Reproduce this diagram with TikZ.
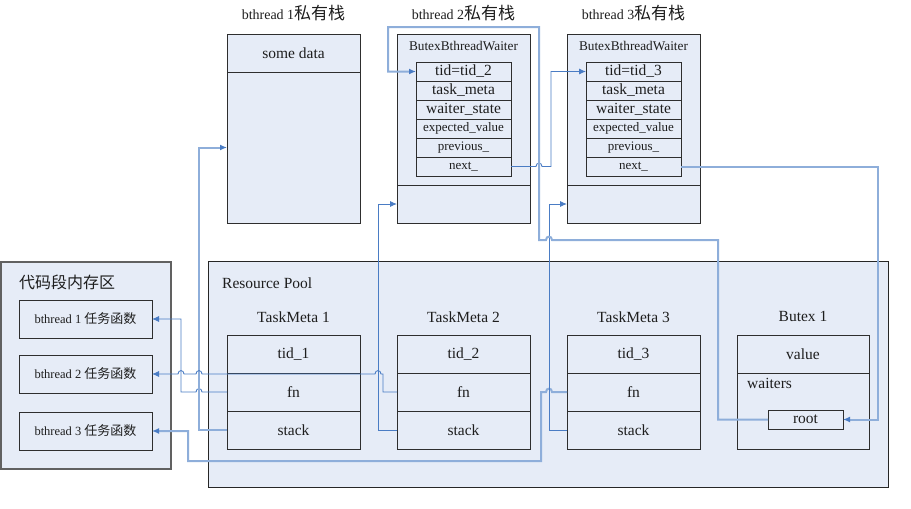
\documentclass[tikz,border=0pt]{standalone}
\usepackage{fontspec}
\setmainfont{Liberation Serif}
\newfontfamily\cjk{Noto Sans CJK SC}
\usetikzlibrary{arrows.meta}
\definecolor{bg}{HTML}{E6ECF7}
\definecolor{dk}{HTML}{4A7CC4}
\definecolor{lt}{HTML}{8EAEDA}
\definecolor{edge}{HTML}{2E2E2E}
\definecolor{txt}{HTML}{1E1E1E}
\tikzset{
  box/.style={draw=edge, fill=bg, line width=0.8pt, inner sep=0pt, outer sep=0pt, text=txt},
  big/.style={font=\fontsize{15.5}{17}\selectfont},
  small/.style={font=\fontsize{13}{15}\selectfont},
  cell/.style={box, big, minimum width=133pt, minimum height=38pt},
  wrow/.style={box, minimum width=95pt, minimum height=19pt},
  lbl/.style={inner sep=0pt, text=txt},
  dkline/.style={draw=dk, line width=0.9pt},
  ltline/.style={draw=lt, line width=2pt},
  tip/.style={-{Latex[length=7pt,width=6pt,color=dk]}},
}
\newcommand{\ttl}[1]{{\fontsize{14}{15}\selectfont bthread #1\cjk\fontsize{17}{18}\selectfont 私有栈}}
\newcommand{\fnl}[1]{{\fontsize{12.5}{14}\selectfont bthread #1 \cjk\fontsize{13}{14}\selectfont 任务函数}}
\begin{document}
\begin{tikzpicture}[x=1pt, y=-1pt]
\useasboundingbox (0,0) rectangle (911,509);

% titles of stacks
\node[lbl] (t1) at (293.5,13) {\ttl{1}};
\node[lbl] (t2) at (463.5,13) {\ttl{2}};
\node[lbl] (t3) at (633.5,13) {\ttl{3}};

% stack 1
\node[cell] (s1d) at (293.5,53) {some data};
\node[box, minimum width=133pt, minimum height=151pt] (s1b) at (293.5,147.5) {};

% stack 2
\node[box, minimum width=133pt, minimum height=151pt] (s2t) at (463.5,109.5) {};
\node[box, minimum width=133pt, minimum height=38pt] (s2b) at (463.5,204) {};
\node[lbl, font=\fontsize{13.3}{15}\selectfont] (s2l) at (463.5,45.5) {ButexBthreadWaiter};
\node[wrow, big] (w2tid) at (463.5,71.5) {tid=tid\_2};
\node[wrow, big] (w2tm) at (463.5,90.5) {task\_meta};
\node[wrow, big] (w2ws) at (463.5,109.5) {waiter\_state};
\node[wrow, small] (w2ev) at (463.5,128.5) {expected\_value};
\node[wrow, small] (w2pv) at (463.5,147.5) {previous\_};
\node[wrow, small] (w2nx) at (463.5,166.5) {next\_};

% stack 3
\node[box, minimum width=133pt, minimum height=151pt] (s3t) at (633.5,109.5) {};
\node[box, minimum width=133pt, minimum height=38pt] (s3b) at (633.5,204) {};
\node[lbl, font=\fontsize{13.3}{15}\selectfont] (s3l) at (633.5,45.5) {ButexBthreadWaiter};
\node[wrow, big] (w3tid) at (633.5,71.5) {tid=tid\_3};
\node[wrow, big] (w3tm) at (633.5,90.5) {task\_meta};
\node[wrow, big] (w3ws) at (633.5,109.5) {waiter\_state};
\node[wrow, small] (w3ev) at (633.5,128.5) {expected\_value};
\node[wrow, small] (w3pv) at (633.5,147.5) {previous\_};
\node[wrow, small] (w3nx) at (633.5,166.5) {next\_};

% code area
\node[box, draw=black!62, line width=1.2pt, minimum width=170pt, minimum height=207pt] (code) at (86,365.5) {};
\node[lbl, anchor=west, font=\cjk\fontsize{16}{17}\selectfont] (codel) at (19,282) {代码段内存区};
\node[box, minimum width=133pt, minimum height=38pt] (code1) at (85.5,319) {\fnl{1}};
\node[box, minimum width=133pt, minimum height=38pt] (code2) at (85.5,374) {\fnl{2}};
\node[box, minimum width=133pt, minimum height=38pt] (code3) at (85.5,431) {\fnl{3}};

% resource pool
\node[box, draw=black!85, minimum width=680pt, minimum height=226pt] (pool) at (548,374) {};
\node[lbl, big, anchor=west] (pooll) at (222,283) {Resource Pool};

\node[lbl, big] (tm1l) at (293.5,317) {TaskMeta 1};
\node[lbl, big] (tm2l) at (463.5,317) {TaskMeta 2};
\node[lbl, big] (tm3l) at (633.5,317) {TaskMeta 3};
\node[lbl, big] (bxl) at (803,316) {Butex 1};

\node[cell] (tm1tid) at (293.5,354) {tid\_1};
\node[cell] (tm1fn) at (293.5,392) {fn};
\node[cell] (tm1st) at (293.5,430) {stack};
\node[cell] (tm2tid) at (463.5,354) {tid\_2};
\node[cell] (tm2fn) at (463.5,392) {fn};
\node[cell] (tm2st) at (463.5,430) {stack};
\node[cell] (tm3tid) at (633.5,354) {tid\_3};
\node[cell] (tm3fn) at (633.5,392) {fn};
\node[cell] (tm3st) at (633.5,430) {stack};

\node[box, big, minimum width=132pt, minimum height=38pt] (bxv) at (803,354) {value};
\node[box, minimum width=132pt, minimum height=76pt] (bxw) at (803,411) {};
\node[lbl, big, anchor=west] (bxwl) at (747,383) {waiters};
\node[box, big, minimum width=75pt, minimum height=19pt] (root) at (805.5,419.5) {root};

% connectors
% TaskMeta1 fn -> bthread 1 function
\draw[dkline, tip] (tm1fn.west) -- (202,392) .. controls (202,387.5) and (196,387.5) .. (196,392)
  -- (181,392) -- (181,319) -- (code1.east);
% TaskMeta1 stack -> stack 1
\draw[ltline, tip] (tm1st.west) -- (199,430) |- (s1b.west);
% TaskMeta2 fn -> bthread 2 function
\draw[dkline, tip] (tm2fn.west) -- (383,392) -- (383,374) -- (381,374)
  .. controls (381,369.5) and (375,369.5) .. (375,374) -- (202,374)
  .. controls (202,369.5) and (196,369.5) .. (196,374) -- (184,374)
  .. controls (184,369.5) and (178,369.5) .. (178,374) -- (code2.east);
% TaskMeta2 stack -> stack 2
\draw[dkline, tip] (tm2st.west) -- (378,430) |- (s2b.west);
% TaskMeta3 fn -> bthread 3 function
\draw[ltline, tip] (tm3fn.west) -- (552,392) .. controls (552,387.5) and (546,387.5) .. (546,392)
  -- (541,392) -- (541,461) -- (188,461) -- (188,431) -- (code3.east);
% TaskMeta3 stack -> stack 3
\draw[dkline, tip] (tm3st.west) -- (549,430) |- (s3b.west);
% next_ of waiter 2 -> tid of waiter 3
\draw[dkline, tip] (w2nx.east) -- (536,166.5) .. controls (536,162) and (542,162) .. (542,166.5)
  -- (551,166.5) |- (w3tid.west);
% next_ of waiter 3 -> root
\draw[ltline, tip] (w3nx.east) -- (878,166.5) |- (root.east);
% root -> tid of waiter 2
\draw[ltline, tip] (root.west) -- (718,419.5) -- (718,240) -- (552,240)
  .. controls (552,235.5) and (546,235.5) .. (546,240) -- (539,240) -- (539,27) -- (388,27) |- (w2tid.west);
\end{tikzpicture}
\end{document}
